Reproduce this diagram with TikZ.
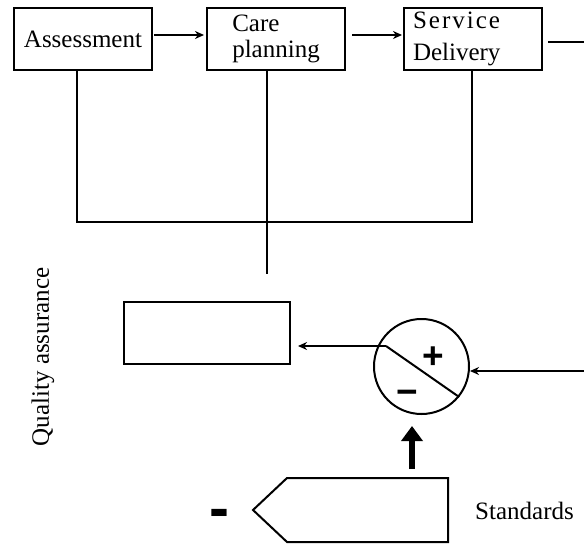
\documentclass[tikz,border=0pt]{standalone}
\usepackage{fontspec}
\setmainfont{Liberation Serif}
\newfontfamily\symfont{Liberation Sans}
\usetikzlibrary{arrows.meta}
\begin{document}
\begin{tikzpicture}[x=1pt,y=-1pt,
  box/.style={draw,line width=2pt,minimum width=138pt,minimum height=62pt,inner sep=0pt,
    font=\fontsize{25}{23.5}\selectfont},
  conn/.style={line width=2pt},
  arr/.style={line width=2pt,-{Stealth[length=9pt,width=8pt]}},
  bigarr/.style={line width=5.5pt,-{Triangle[length=15pt,width=21pt]}},
  lbl/.style={inner sep=0pt,font=\fontsize{25}{25}\selectfont},
  sign/.style={inner sep=0pt,anchor=base,font=\symfont\bfseries\fontsize{37}{37}\selectfont}
]
\useasboundingbox (0,0) rectangle (584,544);
% top row
\node[box] (A) at (83,39) {Assessment};
\node[box,align=left] (P) at (276,39) {\strut Care\\planning};
\node[box,align=left,text width=120pt,font=\fontsize{25}{32}\selectfont] (S) at (473,39)
  {{\addfontfeature{LetterSpace=8}Service}\\Delivery};
\draw[arr,shorten <=1pt,shorten >=2pt] ([yshift=4pt]A.east) -- ([yshift=4pt]P.west);
\draw[arr,shorten <=6pt,shorten >=1pt] ([yshift=4pt]P.east) -- ([yshift=4pt]S.west);
\coordinate (outR) at (584,42);
\draw[conn] ([xshift=5pt]S.east |- outR) -- (outR);
% feedback loop
\coordinate (L1) at (77,222);
\coordinate (L2) at (472,222);
\coordinate (Cend) at (267,274);
\draw[conn] (A.south -| L1) -- (L1) -- (L2) -- (S.south -| L2);
\draw[conn] (P.south -| Cend) -- (Cend);
% quality assurance
\node[lbl,rotate=90] (qa) at (43,357) {Quality assurance};
\node[box,minimum width=166pt] (Q) at (207,333) {};
\node[draw,circle,line width=2pt,minimum size=95pt,inner sep=0pt] (K) at (421.5,366.5) {};
\coordinate (J) at (386,346);
\draw[conn] (J) -- (K.-39);
\draw[arr,shorten >=7pt] (J) -- (Q.east |- J);
\node[sign] (plus) at (433,368) {+};
\node[sign] (minus) at (407,404) {−};
\coordinate (inR) at (584,371);
\draw[arr] (inR) -- (K.east |- inR);
% standards
\coordinate (stdtop) at (412,478);
\draw[conn,line join=miter] (287,478) -- (448,478) -- (448,542) -- (287,542) -- (253,510) -- cycle;
\draw[bigarr] ([yshift=9pt]stdtop) -- ([yshift=-11pt]K.south -| stdtop);
\node[inner sep=0pt,anchor=base,font=\symfont\bfseries\fontsize{60}{60}\selectfont] (dashL) at (219,528) {-};
\node[lbl,anchor=west] (std) at (475,511) {Standards};
\end{tikzpicture}
\end{document}
